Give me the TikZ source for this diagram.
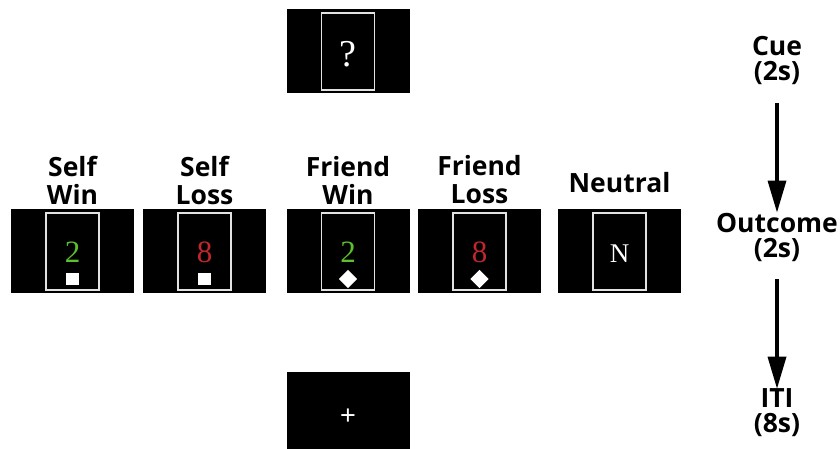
\documentclass[tikz,border=0pt]{standalone}
\usepackage{fontspec}
\setmainfont{Liberation Serif}
\newfontfamily\labelfont{Open Sans}
\newfontfamily\plusfont{Liberation Sans}
\usepackage{tikz}
\usetikzlibrary{arrows.meta,positioning}
\definecolor{cuegreen}{HTML}{5CBF2E}
\definecolor{cuered}{HTML}{C1272D}
\definecolor{framegrey}{HTML}{E2E2E2}

\begin{document}
\begin{tikzpicture}[x=1pt,y=-1pt,
  screen/.style={fill=black,minimum width=123pt,minimum height=84pt,inner sep=0},
  frame/.style={draw=framegrey,line width=1.5pt,minimum width=53pt,minimum height=77pt,inner sep=0},
  lbl/.style={font=\labelfont\bfseries\fontsize{26.5}{28}\selectfont,align=center,inner sep=0},
  steplbl/.style={font=\labelfont\bfseries\fontsize{26.5}{25}\selectfont,align=center,inner sep=0},
  digit/.style={font=\fontsize{31}{31}\selectfont,inner sep=0},
  sq/.style={fill=white,minimum width=13pt,minimum height=12.5pt,inner sep=0},
  dmd/.style={fill=white,minimum size=12.8pt,inner sep=0,rotate=45},
  flow/.style={-{Triangle[length=32pt,width=18pt]},line width=3.4pt}]
  \clip (0,0) rectangle (840,449);
  % cue screen
  \node[screen] (cuescr) at (348,51) {};
  \node[frame] (cuefrm) at (348,51.5) {};
  \node[font=\fontsize{38}{38}\selectfont,text=white,inner sep=0] (qmark) at (348,54) {?};
  % outcome screens
  \foreach \nm/\xx/\txt/\num/\col/\mk in {%
    sw/72.5/{Self\\Win}/2/cuegreen/sq, sl/204.5/{Self\\Loss}/8/cuered/sq,
    fw/348/{Friend\\Win}/2/cuegreen/dmd, fl/479.5/{Friend\\Loss}/8/cuered/dmd}{
      \node[screen] (\nm) at (\xx,251) {};
      \node[frame] (\nm f) at (\xx,251.5) {};
      \node[digit,text=\col] (\nm d) at (\xx,252) {\num};
      \node[\mk] (\nm m) at (\xx,279) {};
      \node[lbl] (\nm l) at (\xx,180) {\txt};
  }
  \node[screen] (nt) at (619.5,251) {};
  \node[frame] (ntf) at (619.5,251.5) {};
  \node[digit,font=\fontsize{27}{27}\selectfont,text=white] (ntd) at (619.5,253.5) {N};
  \node[lbl] (ntl) at (619.5,183) {Neutral};
  % iti screen
  \node[screen] (itiscr) at (348,414) {};
  \node[font=\plusfont\fontsize{27}{27}\selectfont,text=white,inner sep=0] (plus) at (348,417) {+};
  % timeline
  \node[steplbl] (cue) at (777,60.5) {Cue\\(2s)};
  \node[steplbl] (outc) at (777,237) {Outcome\\(2s)};
  \node[steplbl] (iti) at (777,413) {ITI\\(8s)};
  \draw[flow,shorten <=18pt] (cue) -- (outc);
  \draw[flow,shorten <=18pt] (outc) -- (iti);
\end{tikzpicture}
\end{document}
